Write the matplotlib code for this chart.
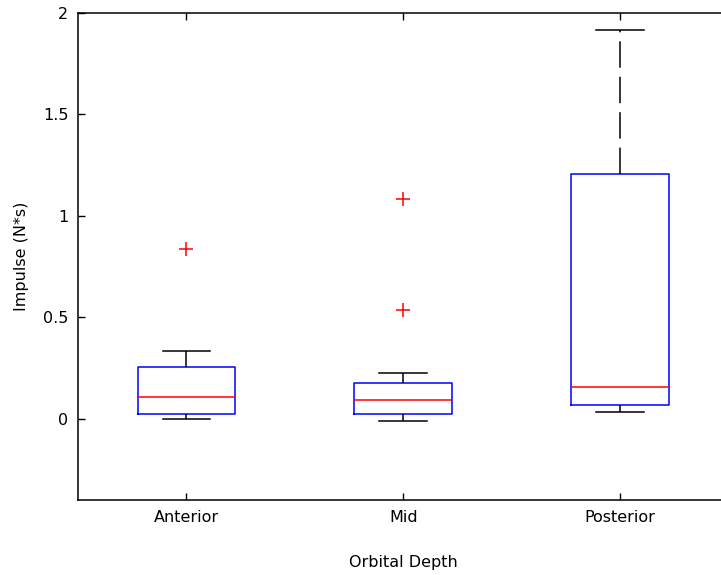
import matplotlib
matplotlib.use("Agg")
import matplotlib.pyplot as plt

plt.rcParams['font.family'] = ['DejaVu Sans']
plt.rcParams['lines.scale_dashes'] = False

categories = ["Anterior", "Mid", "Posterior"]
q1 = [0.025, 0.025, 0.069]
med = [0.109, 0.094, 0.158]
q3 = [0.257, 0.178, 1.208]
whislo = [-0.003, -0.01, 0.035]
whishi = [0.332, 0.228, 1.916]
outliers = [[0.837], [1.084, 0.535], []]

stats = []
for i, c in enumerate(categories):
    stats.append(dict(label=c, q1=q1[i], med=med[i], q3=q3[i],
                      whislo=whislo[i], whishi=whishi[i], fliers=outliers[i]))

fig = plt.figure(figsize=(7.21, 5.75), dpi=100)
ax = fig.add_axes([78/721, 75/575, 650.5/721, 487/575])

lw = 1.1
ax.bxp(stats, positions=[1, 2, 3], widths=0.45, capwidths=0.22,
       showfliers=True,
       boxprops=dict(color='#0000ff', linewidth=lw),
       medianprops=dict(color='#ff0000', linewidth=lw),
       whiskerprops=dict(color='black', linewidth=lw, linestyle=(0, (19, 6.5))),
       capprops=dict(color='black', linewidth=lw),
       flierprops=dict(marker='+', markeredgecolor='#ff0000', markersize=10,
                       markeredgewidth=1.1, linestyle='none'))

ax.set_xlim(0.5, 3.5)
ax.set_ylim(-0.4, 2)
ax.set_yticks([0, 0.5, 1, 1.5, 2])
ax.set_yticklabels(['0', '0.5', '1', '1.5', '2'])
ax.set_xticks([1, 2, 3])
ax.set_xticklabels(categories)
ax.tick_params(direction='in', length=5, width=1, top=True, right=True,
               labelsize=11.5, pad=7)
for s in ax.spines.values():
    s.set_linewidth(1.1)
ax.set_xlabel('Orbital Depth', fontsize=11.5, labelpad=22)
ax.set_ylabel('Impulse (N*s)', fontsize=11.5, labelpad=10)

fig.savefig('out.png', dpi=100)
